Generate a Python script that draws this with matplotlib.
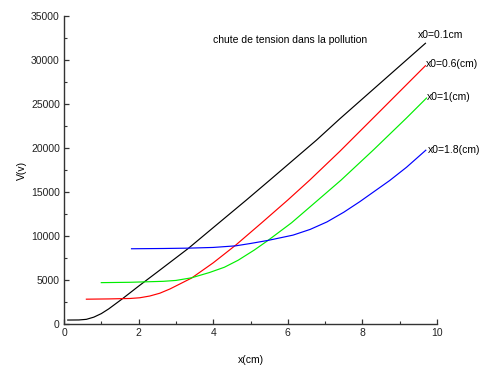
import numpy as np
import matplotlib
matplotlib.use("Agg")
import matplotlib.pyplot as plt
from matplotlib.ticker import MultipleLocator

# ── Data ──────────────────────────────────────────────────────────────────────
x_01 = [0.1, 0.4, 0.6, 0.8, 1.0, 1.2, 1.56, 2.0, 2.5, 3.33, 4.0, 4.89, 5.52,
        6.77, 7.39, 8.46, 9.69]
v_01 = [450, 460, 530, 780, 1180, 1720, 2850, 4300, 5900, 8580, 10950, 14090,
        16360, 20900, 23300, 27300, 31900]

x_06 = [0.6, 1.2, 1.77, 2.03, 2.3, 2.57, 2.84, 3.42, 4.0, 4.6, 5.3, 6.0, 6.59,
        7.39, 8.46, 9.69]
v_06 = [2820, 2850, 2900, 2980, 3180, 3500, 3980, 5220, 6950, 8950, 11500,
        14090, 16360, 19600, 24130, 29350]

x_1 = [1.0, 1.77, 2.66, 3.0, 3.42, 3.9, 4.3, 4.67, 5.1, 5.47, 6.1, 6.81, 7.43,
       8.3, 9.18, 9.72]
v_1 = [4700, 4740, 4850, 4950, 5250, 5850, 6450, 7250, 8400, 9500, 11500,
       14090, 16360, 19800, 23400, 25680]

x_18 = [1.81, 2.66, 3.33, 4.0, 4.6, 5.0, 5.47, 6.14, 6.6, 7.05, 7.5, 7.93,
        8.28, 8.73, 9.18, 9.7]
v_18 = [8550, 8580, 8620, 8700, 8880, 9150, 9500, 10100, 10750, 11600, 12700,
        13900, 14950, 16300, 17800, 19750]

labels = ["x0=0.1cm", "x0=0.6(cm)", "x0=1(cm)", "x0=1.8(cm)"]
label_pos = [(9.5, 32840), (9.69, 29545), (9.72, 25800), (9.75, 19770)]
colors = ["black", "#ff0000", "#00ee00", "#0000ff"]

title = "chute de tension dans la pollution"

# ── Plot ──────────────────────────────────────────────────────────────────────
plt.rcParams["font.family"] = ["Liberation Sans", "DejaVu Sans"]
FS = 7.5

fig = plt.figure(figsize=(4.83, 3.67), dpi=100)
ax = fig.add_axes([64/483, 1 - 324/367, 373/483, 308/367])

series = [(x_01, v_01), (x_06, v_06), (x_1, v_1), (x_18, v_18)]
for (xs, vs), c in zip(series, colors):
    ax.plot(xs, vs, color=c, lw=0.85)

for lab, (lx, ly) in zip(labels, label_pos):
    ax.text(lx, ly, lab, fontsize=FS, ha="left", va="center", clip_on=False)

ax.text(0.40, 0.922, title, transform=ax.transAxes, fontsize=FS,
        ha="left", va="center")

ax.set_xlim(0, 10)
ax.set_ylim(0, 35000)
ax.xaxis.set_major_locator(MultipleLocator(2))
ax.xaxis.set_minor_locator(MultipleLocator(1))
ax.yaxis.set_major_locator(MultipleLocator(5000))
ax.yaxis.set_minor_locator(MultipleLocator(2500))

for s in ["top", "right"]:
    ax.spines[s].set_visible(False)
for s in ["left", "bottom"]:
    ax.spines[s].set_linewidth(1.0)
    ax.spines[s].set_color("#333333")

ax.tick_params(which="major", direction="in", length=3.5, width=0.9,
               labelsize=FS, pad=3, colors="#333333", labelcolor="#222222")
ax.tick_params(which="minor", direction="in", length=2.2, width=0.8,
               colors="#333333")

ax.set_xlabel("x(cm)", fontsize=FS, labelpad=12)
ax.set_ylabel("V(v)", fontsize=FS, labelpad=3)

fig.savefig("out.png", dpi=100)
